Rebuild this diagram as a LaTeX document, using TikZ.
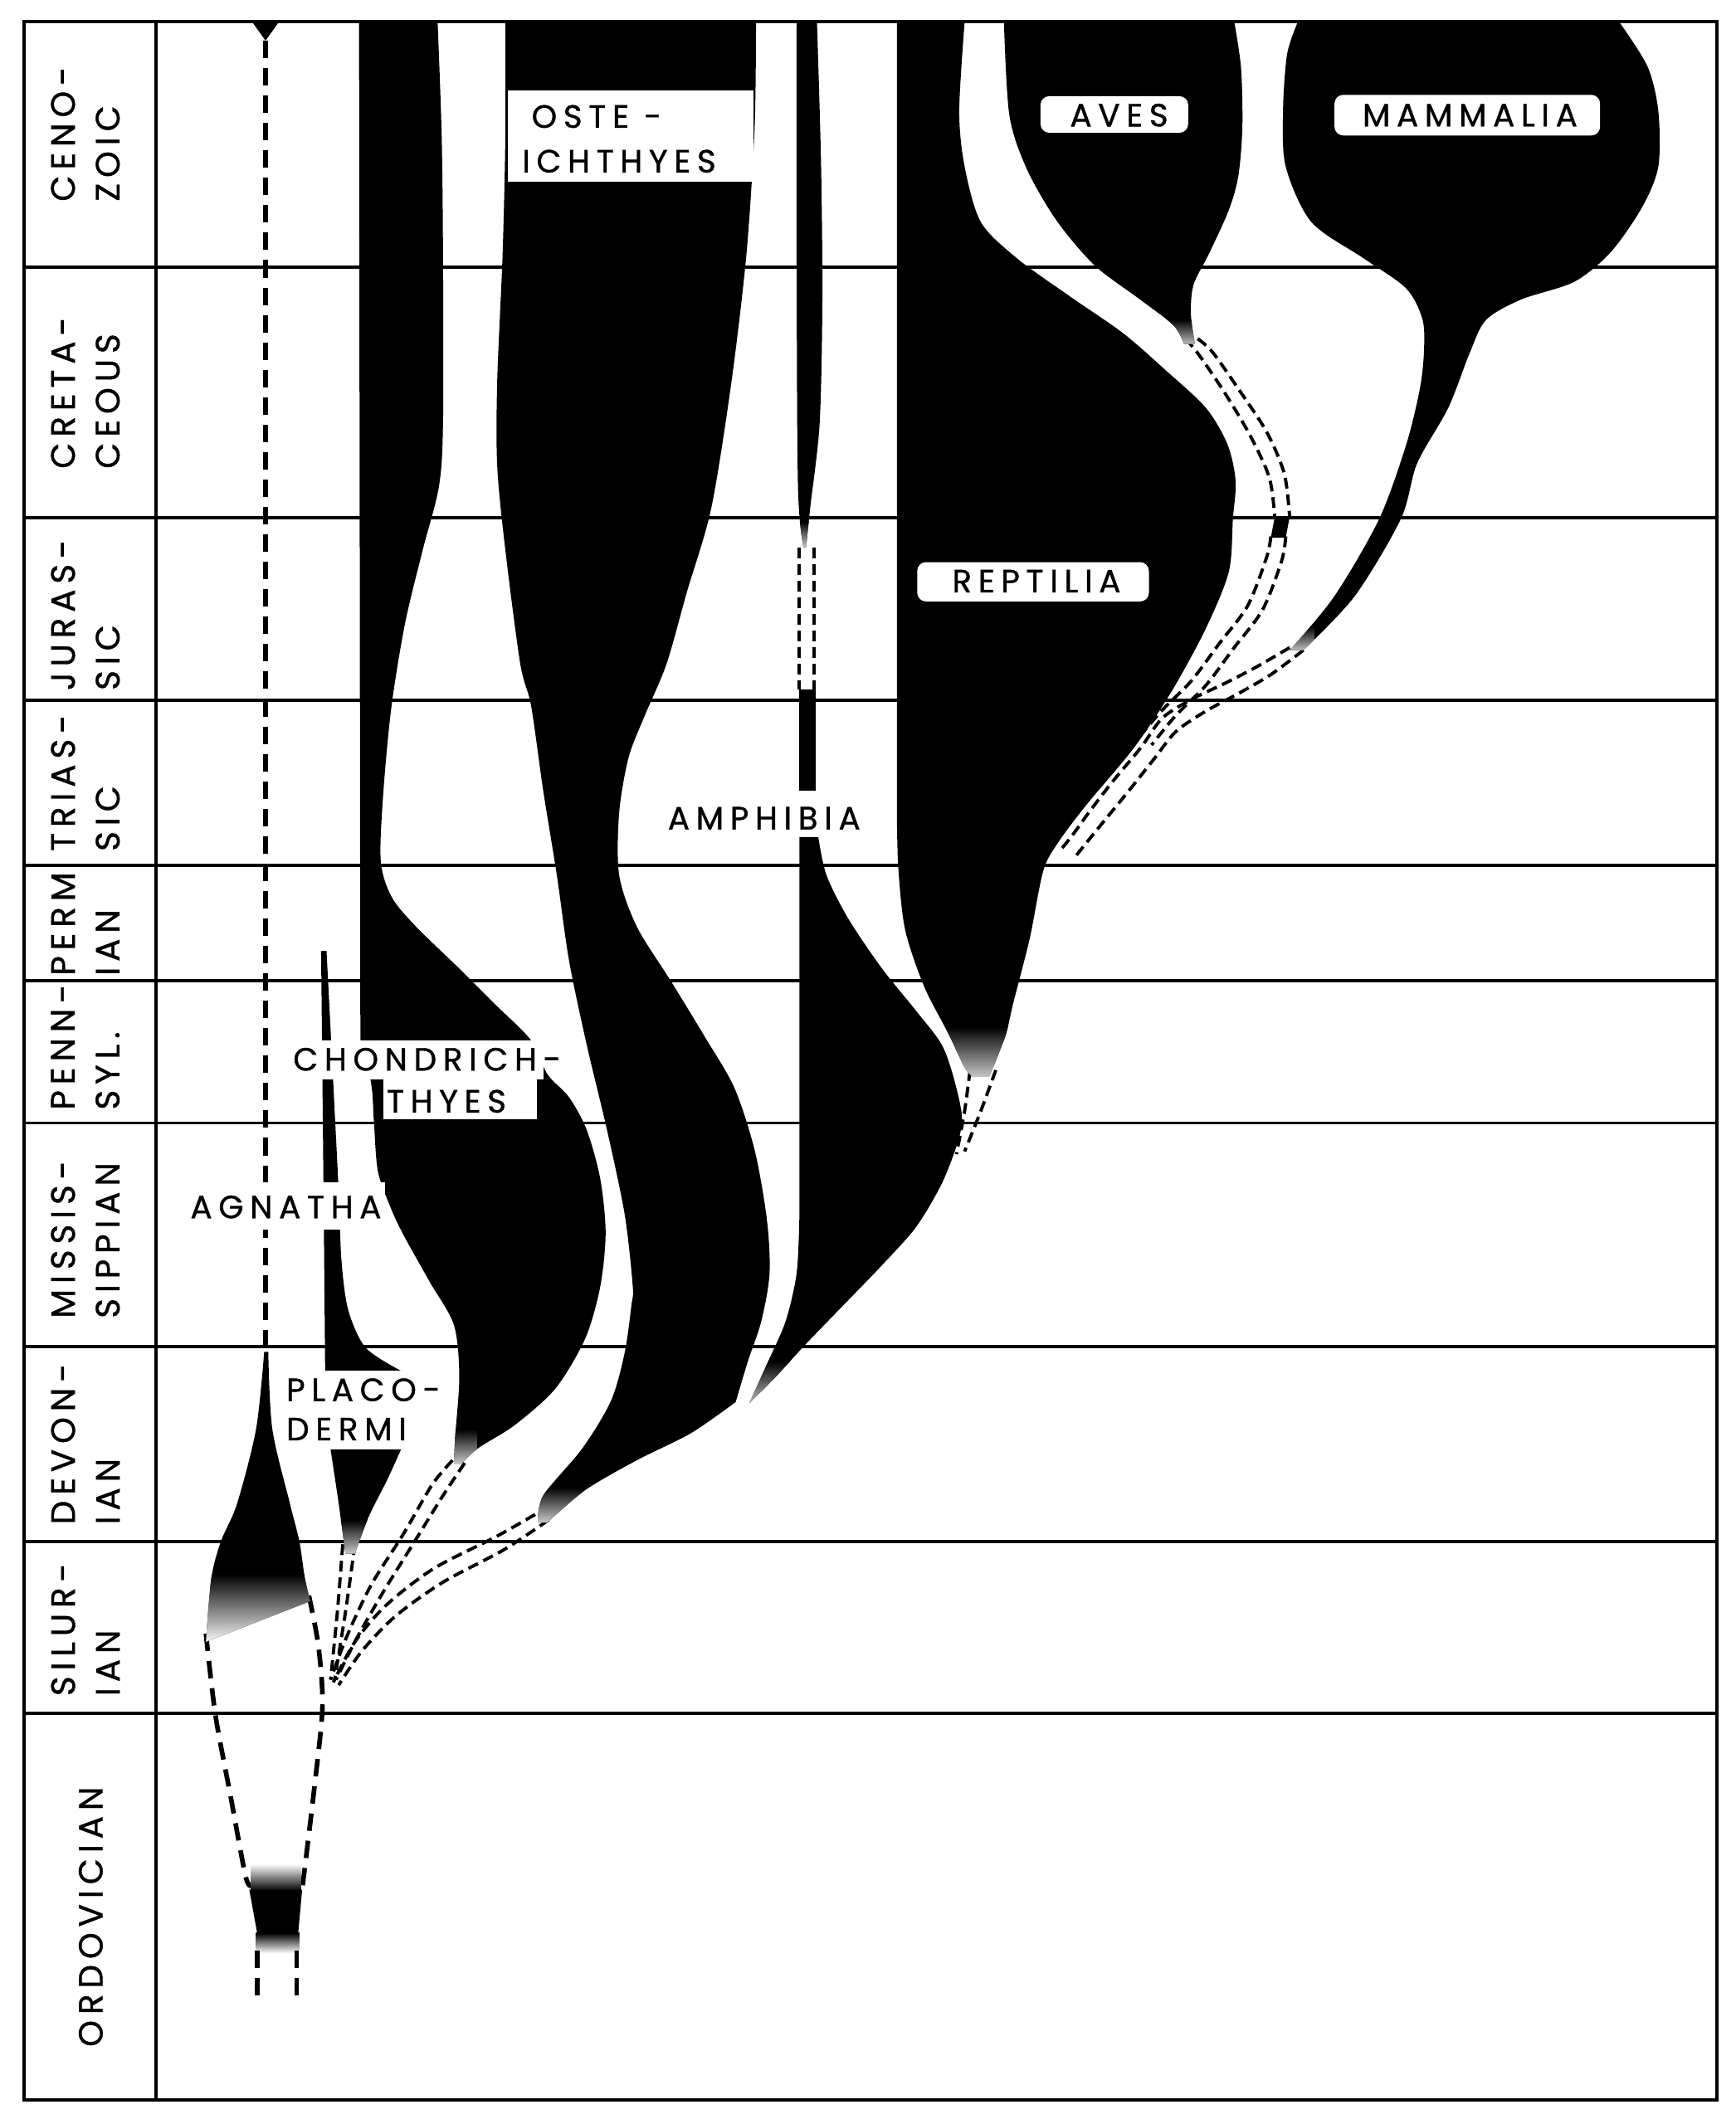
\documentclass[tikz,border=0pt]{standalone}
\usepackage{fontspec}
\setmainfont{Poppins}
\newfontfamily\grpfont[LetterSpace=20, FakeBold=1]{Poppins}
\newfontfamily\perfont[LetterSpace=17, FakeBold=1]{Poppins}
\begin{document}
\begin{tikzpicture}[x=0.0163cm,y=-0.0163cm,
  gridline/.style={line width=1.1pt, black},
  agdash/.style={line width=1.6pt, dash pattern=on 0.21cm off 0.12cm},
  pairdash/.style={line width=1.1pt, dash pattern=on 0.13cm off 0.07cm},
  lbox/.style={fill=white, draw=none},
  glabel/.style={font=\grpfont\fontsize{11}{12}\selectfont, inner sep=0pt},
  plabel/.style={font=\perfont\fontsize{11.5}{15.3}\selectfont, rotate=90, align=left, inner sep=0pt},
  fadetip/.style={top color=black, bottom color=black!18}
]
\useasboundingbox (0,0) rectangle (1281,1568);
\fill[white] (0,0) rectangle (1281,1568);

% ---------- grid ----------
\foreach \yy in {197,382,517,639,724,829,994,1138,1265}
  \draw[gridline] (18,\yy) -- (1267,\yy);
\draw[gridline] (18,16) rectangle (1267,1550);
\draw[gridline] (115,16) -- (115,1550);

% ---------- shape paths ----------
\def\chond{(265,16) -- (323,16) -- plot[smooth] coordinates {(323,16) (326,100) (327,190) (327,312) (324,359) (312,406) (299,460) (289,521) (283,584) (281,635) (289,662) (307,684) (339,715) (364,740) (392,768) (404,793) (420,810) (433,834) (443,870) (447,910) (443,950) (432,988) (410,1025) (380,1052) (353,1069) (340,1081)} -- plot[smooth] coordinates {(335,1081) (336,1060) (339,1016) (335,978) (317,946) (298,912) (289,893) (279,865) (276,828) (274,800) (266,767)} -- cycle}
\def\ost{(373,16) -- (558,16) -- plot[smooth] coordinates {(558,16) (557,94) (551,187) (540,281) (525,375) (507,437) (492,490) (476,528) (464,559) (457,600) (457,646) (470,684) (495,724) (520,765) (542,803) (557,849) (566,900) (568,940) (562,975) (552,1005) (543,1035)} -- plot[smooth] coordinates {(543,1035) (510,1058) (470,1078) (432,1100) (404,1124)} -- plot[smooth] coordinates {(397,1124) (401,1104) (430,1069) (451,1034) (461,999) (466,964) (467,949) (461,896) (448,834) (433,771) (420,709) (411,646) (401,584) (392,521) (384,490) (373,406) (367,344) (367,281) (371,187) (373,100) (373,16)} -- cycle}
\def\amphup{(588,16) -- (603,16) -- plot[smooth] coordinates {(603,16) (606,120) (607,220) (605,312) (598,375) (595,404)} -- plot[smooth] coordinates {(593,404) (589,360) (588,200) (588,16)} -- cycle}
\def\amphlow{(590,618) -- (604,618) -- plot[smooth] coordinates {(604,618) (610,646) (626,678) (651,715) (676,746) (695,771) (704,796) (710,824) (707,843) (695,874) (676,906) (651,934) (623,963) (595,992) (572,1017) (553,1036)} -- plot[smooth] coordinates {(553,1036) (567,1005) (580,975) (588,940) (590,900)} -- cycle}
\def\rept{(662,16) -- (712,16) -- plot[smooth] coordinates {(712,16) (708,82) (712,123) (724,164) (751,191) (790,219) (829,246) (860,273) (890,301) (906,328) (912,355) (910,383) (907,422) (890,464) (865,510) (837,552) (802,594) (781,622) (770,643) (760,693) (748,740) (742,765) (730,795)} -- plot[smooth] coordinates {(718,795) (712,788) (700,763) (682,728) (668,686) (663,640) (662,600)} -- cycle}
\def\aves{(741,16) -- (911,16) -- plot[smooth] coordinates {(911,16) (916,50) (917,94) (914,130) (907,155) (893,186) (881,210) (879,232) (882,254)} -- plot[smooth] coordinates {(874,254) (866,240) (840,220) (808,196) (780,163) (758,125) (745,85) (741,16)} -- cycle}
\def\mamm{(958,16) -- (1195,16) -- plot[smooth] coordinates {(1195,16) (1216,49) (1224,82) (1224,123) (1212,153) (1189,186) (1162,208) (1123,221) (1097,236) (1085,260) (1069,301) (1046,342) (1034,383) (1000,440) (962,480)} -- plot[smooth] coordinates {(952,480) (985,440) (1018,383) (1038,328) (1048,287) (1051,260) (1050,236) (1038,213) (1007,191) (968,164) (949,123) (947,82) (950,40) (958,16)} -- cycle}
\def\placoup{(237,702) -- (241,702) -- plot[smooth] coordinates {(241,702) (244,760) (247,820) (250,880) (252,930) (257,967) (270,995) (296,1012)} -- (240,1012) -- plot[smooth] coordinates {(240,1012) (239,900) (238,800) (237,702)} -- cycle}
\def\placolow{(244,1070) -- (296,1070) -- plot[smooth] coordinates {(296,1070) (286,1092) (272,1120) (262,1147)} -- plot[smooth] coordinates {(255,1147) (250,1110) (244,1070)} -- cycle}
\def\agn{(195,998) -- (198,998) -- plot[smooth] coordinates {(198,998) (201,1055) (214,1110) (221,1138) (225,1165) (229,1182)} -- (152,1212) -- plot[smooth] coordinates {(152,1212) (156,1165) (163,1138) (175,1110) (189,1055) (195,998)} -- cycle}

% ---------- dashed lineages ----------
\fill (186,16) -- (206,16) -- (196,30) -- cycle;
\draw[agdash] (196,30) -- (196,998);
\draw[agdash] plot[smooth] coordinates {(152,1206) (159,1266) (170,1325) (181,1384) (185,1392)};
\draw[agdash] plot[smooth] coordinates {(228,1178) (235,1215) (238,1260) (232,1320) (223,1395)};
\shade[top color=white, bottom color=black] (185,1376) rectangle (222,1396);
\fill (184,1395) -- (223,1395) -- (220,1428) -- (190,1428) -- cycle;
\shade[top color=black, bottom color=white] (189,1427) rectangle (221,1442);
\draw[agdash] (190,1440) -- (190,1477);
\draw[agdash] (219,1440) -- (219,1477);

\coordinate (conv) at (245,1242);
\draw[pairdash] plot[smooth] coordinates {(253,1140) (249,1190) (244,1240)};
\draw[pairdash] plot[smooth] coordinates {(262,1140) (255,1190) (247,1240)};
\draw[pairdash] plot[smooth] coordinates {(334,1078) (319,1096) (298,1132) (274,1170) (256,1208) (244,1240)};
\draw[pairdash] plot[smooth] coordinates {(343,1080) (327,1104) (306,1138) (283,1175) (263,1210) (248,1240)};
\draw[pairdash] plot[smooth] coordinates {(395,1118) (365,1135) (320,1158) (285,1185) (262,1212) (246,1242)};
\draw[pairdash] plot[smooth] coordinates {(405,1122) (372,1144) (327,1168) (292,1193) (267,1219) (250,1244)};

\draw[pairdash] (590,404) -- (590,509);
\draw[pairdash] (601,404) -- (601,509);
\draw[pairdash] plot[smooth] coordinates {(716,790) (712,820) (706,852)};
\draw[pairdash] plot[smooth] coordinates {(735,790) (724,820) (712,850)};

\draw[pairdash] plot[smooth] coordinates {(875,250) (885,262) (904,290) (923,322) (937,353) (941,383)};
\draw[pairdash] plot[smooth] coordinates {(884,250) (895,260) (914,287) (935,319) (948,350) (952,383)};
\fill (941,381) -- (952,381) -- (949,397) -- (938,397) -- cycle;
\draw[pairdash] plot[smooth] coordinates {(938,396) (935,411) (921,447) (900,475) (879,503) (858,524) (840,545)};
\draw[pairdash] plot[smooth] coordinates {(949,396) (946,414) (932,450) (911,478) (890,506) (868,528) (850,550)};
\draw[pairdash] plot[smooth] coordinates {(952,478) (928,492) (905,504) (880,516) (858,530) (842,552) (822,576) (805,598) (792,616) (784,626)};
\draw[pairdash] plot[smooth] coordinates {(962,480) (938,498) (914,512) (890,525) (868,540) (852,560) (833,584) (815,606) (802,622) (794,632)};

% ---------- black lineages ----------
\fill \chond;
\fill \ost;
\fill \amphup;
\fill (590,509) rectangle (602,584);
\fill \amphlow;
\fill \rept;
\fill \aves;
\fill \mamm;
\fill \placoup;
\fill \placolow;
\fill \agn;

% ---------- stippled bases ----------
\begin{scope}\clip \chond; \shade[fadetip] (320,1055) rectangle (352,1082); \end{scope}
\begin{scope}\clip \ost; \shade[fadetip] (385,1098) rectangle (430,1125); \end{scope}
\begin{scope}\clip \amphlow; \shade[fadetip] (545,1005) rectangle (590,1040); \end{scope}
\begin{scope}\clip \amphup; \shade[fadetip] (585,385) rectangle (615,405); \end{scope}
\begin{scope}\clip \rept; \shade[fadetip] (695,758) rectangle (750,797); \end{scope}
\begin{scope}\clip \aves; \shade[fadetip] (860,236) rectangle (890,256); \end{scope}
\begin{scope}\clip \mamm; \shade[fadetip] (940,462) rectangle (970,482); \end{scope}
\begin{scope}\clip \placolow; \shade[fadetip] (240,1122) rectangle (300,1148); \end{scope}
\begin{scope}\clip \agn; \shade[top color=black, bottom color=white] (150,1162) rectangle (232,1214); \end{scope}

% ---------- label boxes ----------
\fill[lbox] (375,67) rectangle (556,134);
\fill[lbox, rounded corners=3pt] (768,71) rectangle (877,98);
\fill[lbox, rounded corners=3pt] (985,70) rectangle (1181,100);
\fill[lbox, rounded corners=3pt] (677,415) rectangle (848,444);
\fill[lbox] (486,585) rectangle (640,617);
\fill[lbox] (212,768) rectangle (401,797);
\fill[lbox] (283,797) rectangle (396,826);
\fill[lbox] (132,873) rectangle (284,908);
\fill[lbox] (208,1012) rectangle (333,1069);

% ---------- group labels ----------
\node[glabel, anchor=west] (tOste) at (392,86) {OSTE -};
\node[glabel, anchor=west] (tIch) at (385,119) {ICHTHYES};
\node[glabel] (tAves) at (826,85) {AVES};
\node[glabel] (tMamm) at (1085,85) {MAMMALIA};
\node[glabel] (tRept) at (765,429) {REPTILIA};
\node[glabel] (tAmph) at (564,604) {AMPHIBIA};
\node[glabel, anchor=west] (tChond) at (216,782) {CHONDRICH-};
\node[glabel, anchor=west] (tThy) at (285,813) {THYES};
\node[glabel] (tAgn) at (211,891) {AGNATHA};
\node[glabel, anchor=west] (tPlaco) at (211,1026) {PLACO-};
\node[glabel, anchor=west] (tDermi) at (211,1055) {DERMI};

% ---------- period labels ----------
\node[plabel] (pCeno) at (63,99) {CENO-\\ZOIC};
\node[plabel] (pCret) at (63,290) {CRETA-\\CEOUS};
\node[plabel] (pJur) at (63,454) {JURAS-\\SIC};
\node[plabel] (pTri) at (63,578) {TRIAS-\\SIC};
\node[plabel] (pPerm) at (63,682) {PERM\\IAN};
\node[plabel] (pPenn) at (63,773) {PENN-\\SYL.};
\node[plabel] (pMiss) at (63,915) {MISSIS-\\SIPPIAN};
\node[plabel] (pDev) at (63,1066) {DEVON-\\IAN};
\node[plabel] (pSil) at (63,1203) {SILUR-\\IAN};
\node[plabel] (pOrd) at (67,1415) {ORDOVICIAN};
\end{tikzpicture}
\end{document}
